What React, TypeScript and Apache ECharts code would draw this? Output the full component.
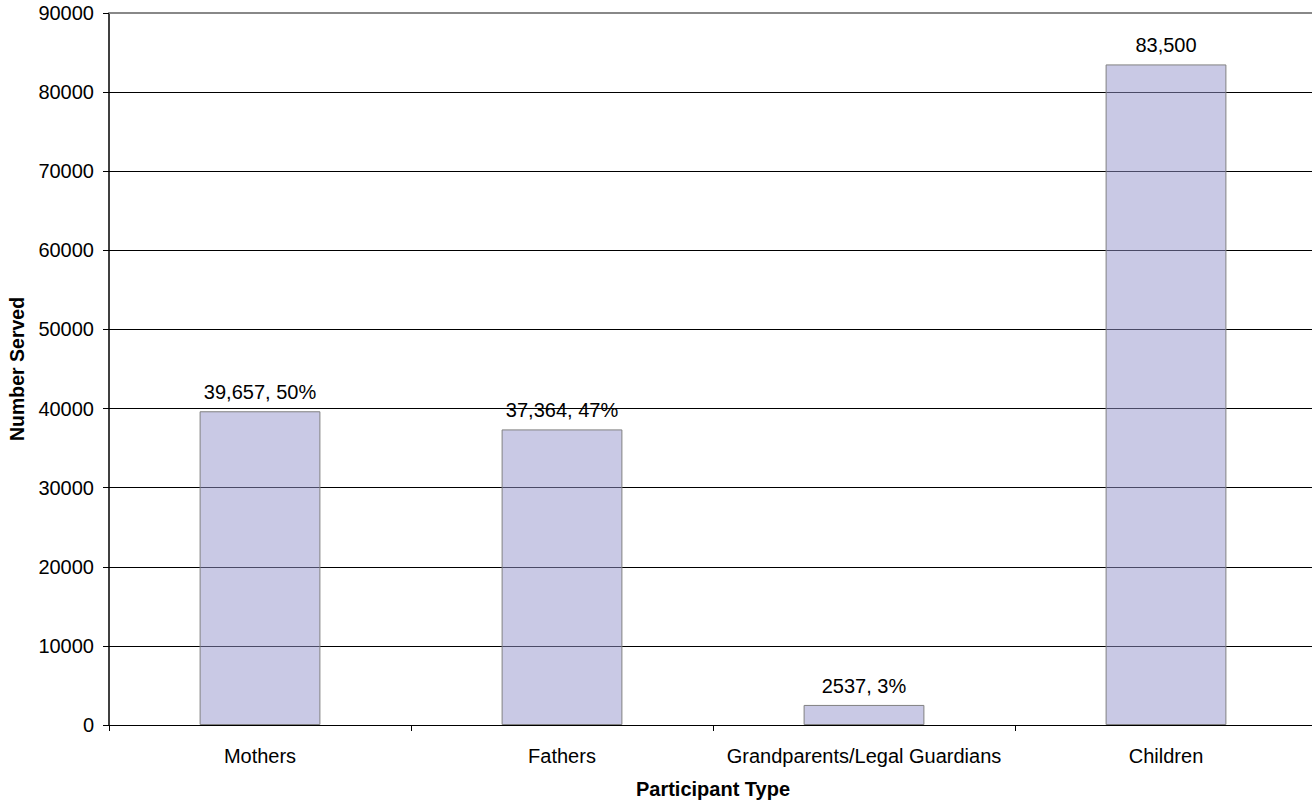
import React, { useEffect, useRef } from "react";
import * as echarts from "echarts";

const categories = ["Mothers", "Fathers", "Grandparents/Legal Guardians", "Children"];
const values = [39657, 37364, 2537, 83500];
const barLabels = ["39,657, 50%", "37,364, 47%", "2537, 3%", "83,500"];
const yTicks = { min: 0, max: 90000, interval: 10000 };
const xAxisTitle = "Participant Type";
const yAxisTitle = "Number Served";

const FONT = "'Liberation Sans', Arial, sans-serif";

export default function App() {
  const ref = useRef<HTMLDivElement>(null);
  useEffect(() => {
    document.body.style.margin = "0";
    document.documentElement.style.overflow = "hidden";
    document.body.style.overflow = "hidden";
    const chart = echarts.init(ref.current!, null, { renderer: "svg" });
    chart.setOption({
      animation: false,
      backgroundColor: "#fff",
      textStyle: { fontFamily: FONT },
      grid: { left: 109, top: 13, right: 3, bottom: 80, containLabel: false },
      xAxis: {
        type: "category",
        data: categories,
        axisLine: { lineStyle: { color: "#000", width: 1 } },
        axisTick: { show: true, alignWithLabel: false, length: 6, lineStyle: { color: "#000" } },
        axisLabel: { color: "#000", fontSize: 20, margin: 21, interval: 0, fontFamily: FONT },
        splitLine: { show: false },
      },
      yAxis: {
        type: "value",
        min: yTicks.min,
        max: yTicks.max,
        interval: yTicks.interval,
        axisLine: { show: true, lineStyle: { color: "#000", width: 1.5 } },
        axisTick: { show: true, length: 6, lineStyle: { color: "#000" } },
        axisLabel: {
          color: "#000",
          fontSize: 20,
          margin: 15,
          fontFamily: FONT,
          formatter: (v: number) => String(v),
        },
        splitLine: { show: true, showMaxLine: false, lineStyle: { color: "#000", width: 1 } },
      },
      graphic: [
        {
          type: "text",
          x: 17,
          y: 369,
          rotation: Math.PI / 2,
          style: {
            text: yAxisTitle,
            fill: "#000",
            font: `bold 19.5px ${FONT}`,
            align: "center",
            verticalAlign: "middle",
          },
        },
        {
          type: "text",
          x: 713,
          y: 789,
          style: {
            text: xAxisTitle,
            fill: "#000",
            font: `bold 20px ${FONT}`,
            align: "center",
            verticalAlign: "middle",
          },
        },
      ],
      series: [
        {
          type: "bar",
          data: values,
          barWidth: "40%",
          itemStyle: { color: "rgba(147,147,203,0.5)", borderColor: "#808080", borderWidth: 1 },
          label: {
            show: true,
            position: "top",
            distance: 9,
            color: "#000",
            fontSize: 20,
            fontFamily: FONT,
            formatter: (p: any) => barLabels[p.dataIndex],
          },
          markLine: {
            silent: true,
            symbol: "none",
            label: { show: false },
            lineStyle: { color: "#888", width: 2, type: "solid" },
            data: [{ yAxis: yTicks.max }],
          },
        },
      ],
    });
    return () => chart.dispose();
  }, []);
  return <div ref={ref} style={{ width: 1320, height: 805 }} />;
}
